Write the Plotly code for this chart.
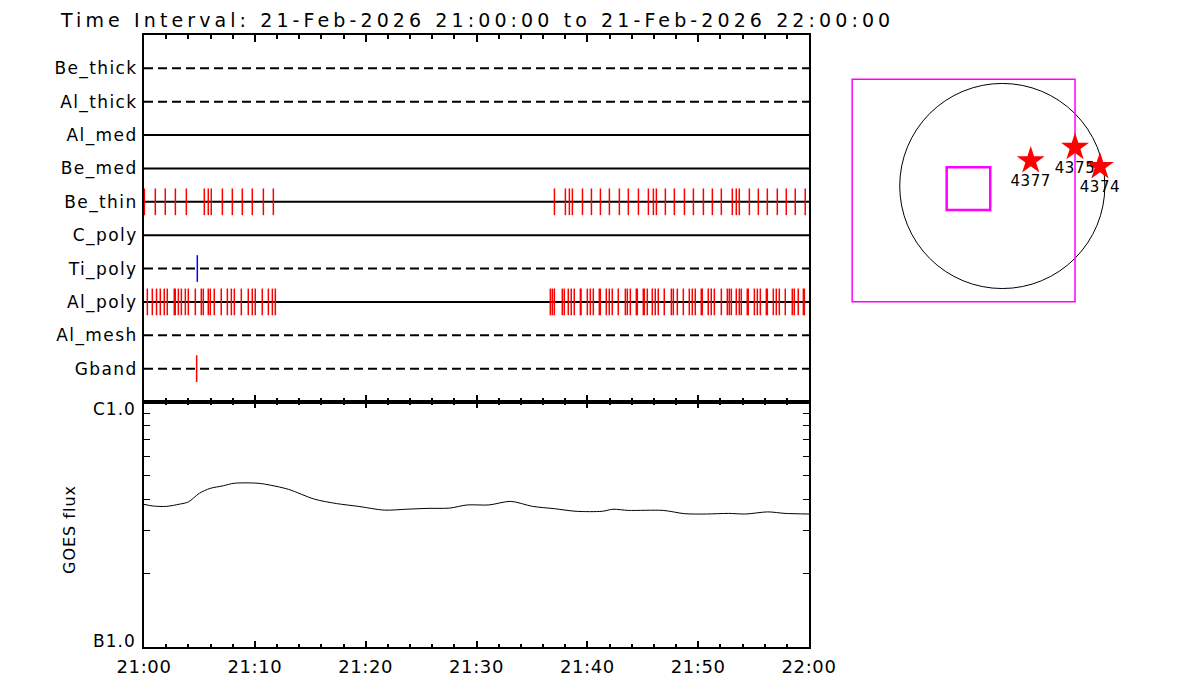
import math
import plotly.graph_objects as go

# ---------------- data ----------------
title_text = "Time Interval: 21-Feb-2026 21:00:00 to 21-Feb-2026 22:00:00"

# channel rows, bottom to top
channels = ["Gband", "Al_mesh", "Al_poly", "Ti_poly", "C_poly",
            "Be_thin", "Be_med", "Al_med", "Al_thick", "Be_thick"]

# exposure times (minutes after 21:00)
be_thin_times = [0.03, 1.02, 1.92, 2.83, 3.82, 5.44, 5.80, 6.07, 7.07, 7.97,
                 8.87, 9.77, 10.77, 11.67,
                 37.03, 38.02, 38.38, 38.65, 39.56, 40.37, 41.18, 41.99, 42.89,
                 43.70, 44.61, 45.51, 45.96, 46.23, 47.04, 47.85, 48.76, 49.57,
                 50.47, 51.28, 52.09, 53.08, 53.44, 53.71, 54.62, 55.43, 56.24,
                 57.14, 57.95, 58.76, 59.66]
al_poly_times = [0.30, 0.75, 1.13, 1.47, 1.83, 2.10, 2.73, 2.82, 3.10, 3.37,
                 3.73, 4.00, 4.63, 5.17, 5.35, 5.80, 5.98, 6.34, 6.97, 7.52,
                 7.88, 8.15, 8.78, 9.41, 9.77, 10.04, 10.67, 11.22, 11.58, 11.85,
                 36.66, 36.84, 37.02, 37.74, 37.92, 38.28, 38.55, 38.82, 39.37,
                 39.43, 40.00, 40.27, 40.54, 41.08, 41.17, 41.71, 41.98, 42.25,
                 42.79, 43.43, 43.61, 43.88, 44.42, 44.51, 45.05, 45.14, 45.41,
                 45.86, 46.13, 46.40, 46.94, 47.58, 47.76, 48.12, 48.66, 49.20,
                 49.47, 49.74, 50.28, 50.37, 50.91, 51.18, 51.46, 52.09, 52.63,
                 52.81, 52.99, 53.44, 53.71, 53.89, 54.43, 54.52, 55.07, 55.34,
                 55.61, 56.15, 56.24, 56.78, 57.05, 57.32, 57.86, 58.49, 58.67,
                 59.03, 59.49, 59.58]
ti_poly_times = [4.81]
gband_times = [4.75]

# GOES flux (W/m^2) vs minutes after 21:00
goes_minutes = [0.0, 0.86, 2.04, 3.22, 4.01, 4.99, 5.97, 7.15, 8.13, 10.29,
                11.47, 13.04, 15.40, 17.37, 19.33, 21.69, 23.65, 25.62, 27.58,
                29.16, 31.12, 33.09, 35.05, 37.01, 38.98, 41.34, 42.32, 43.70,
                46.84, 48.80, 50.77, 52.73, 54.30, 56.27, 57.84, 60.0]
goes_flux = [3.82e-7, 3.76e-7, 3.75e-7, 3.83e-7, 3.91e-7, 4.24e-7, 4.44e-7,
             4.55e-7, 4.66e-7, 4.66e-7, 4.57e-7, 4.40e-7, 4.01e-7, 3.85e-7,
             3.75e-7, 3.62e-7, 3.65e-7, 3.68e-7, 3.69e-7, 3.80e-7, 3.80e-7,
             3.93e-7, 3.75e-7, 3.67e-7, 3.58e-7, 3.58e-7, 3.65e-7, 3.61e-7,
             3.61e-7, 3.50e-7, 3.49e-7, 3.51e-7, 3.49e-7, 3.56e-7, 3.51e-7,
             3.49e-7]

x_tick_vals = [0, 10, 20, 30, 40, 50, 60]
x_tick_text = ["21:00", "21:10", "21:20", "21:30", "21:40", "21:50", "22:00"]
goes_minor_vals = [2e-7, 3e-7, 4e-7, 5e-7, 6e-7, 7e-7, 8e-7, 9e-7]
goes_label_vals = [1e-7, 1e-6]
goes_label_text = ["B1.0", "C1.0"]

# solar disk map (arcsec)
disk_radius = 970
fov_box = [-1420, 688, -1095, 1010]       # x0, x1, y0, y1
target_box = [-526, -114, -227, 177]
ar_ids = ["4377", "4375", "4374"]
ar_x = [269, 688, 924]
ar_y = [239, 366, 183]

# ---------------- styling ----------------
# the page body has an 8px margin, so the figure is 1192x692 placed at (8, 8)
OFF = 8
W, H = 1200 - OFF, 700 - OFF
def px(x): return (x - OFF) / W
def py(y): return 1 - (y - OFF) / H

FONT = "DejaVu Sans"
def spaced(s, sp):
    return f'<span style="letter-spacing:{sp}px">{s}</span>'

dashed = {"Be_thick", "Al_thick", "Ti_poly", "Al_mesh", "Gband"}
events = {"Be_thin": (be_thin_times, "#FF0000"),
          "Al_poly": (al_poly_times, "#FF0000"),
          "Ti_poly": (ti_poly_times, "#0000FF"),
          "Gband": (gband_times, "#FF0000")}

fig = go.Figure()

for i, ch in enumerate(channels):
    row = i + 1
    fig.add_trace(go.Scatter(
        x=[0, 60], y=[row, row], mode="lines",
        line=dict(color="black", width=2,
                  dash="9px,5px" if ch in dashed else "solid"),
        xaxis="x", yaxis="y", hoverinfo="skip", showlegend=False))

for i, ch in enumerate(channels):
    if ch not in events:
        continue
    row = i + 1
    times, col = events[ch]
    xs, ys = [], []
    for t in times:
        xs += [t, t, None]
        ys += [row - 0.4, row + 0.4, None]
    fig.add_trace(go.Scatter(
        x=xs, y=ys, mode="lines", line=dict(color=col, width=1.5),
        xaxis="x", yaxis="y", hoverinfo="skip", showlegend=False))

fig.add_trace(go.Scatter(
    x=goes_minutes, y=goes_flux, mode="lines",
    line=dict(color="black", width=1, shape="spline", smoothing=0.8),
    xaxis="x2", yaxis="y2", showlegend=False))

fig.add_trace(go.Scatter(
    x=ar_x, y=ar_y, mode="markers+text", text=[spaced(a, 0.6) for a in ar_ids],
    textposition="bottom center",
    textfont=dict(family=FONT, size=15, color="black"),
    marker=dict(symbol="star", size=21, color="#FF0000", line=dict(width=0)),
    xaxis="x3", yaxis="y3", showlegend=False))

axis_common = dict(showgrid=False, zeroline=False, showline=True,
                   linecolor="black", linewidth=2, automargin=False)

annotations = [
    dict(text=spaced(title_text, 4.1), xref="paper", yref="paper",
         x=px(59), y=1.0, xanchor="left", yanchor="top", borderpad=0,
         showarrow=False, font=dict(size=19)),
    dict(text=spaced("GOES flux", 1.0), xref="paper", yref="paper",
         x=px(69), y=py(530), xanchor="center", yanchor="middle",
         textangle=-90, showarrow=False, font=dict(size=16)),
]
# GOES class labels placed on the log axis, nudged inward like the original
for v, t, shift in zip(goes_label_vals, goes_label_text, [6, -7]):
    annotations.append(dict(
        text=spaced(t, 1.0), xref="paper", yref="y2",
        x=px(138), y=math.log10(v), yshift=shift,
        xanchor="right", yanchor="middle", showarrow=False,
        font=dict(size=17)))

fig.update_layout(
    width=W, height=H,
    margin=dict(l=0, r=0, t=0, b=0, autoexpand=False),
    paper_bgcolor="white", plot_bgcolor="white",
    font=dict(family=FONT, color="black"),
    xaxis=dict(**axis_common, domain=[px(144), px(809)], range=[0, 60],
               anchor="y", mirror="allticks", ticks="inside", ticklen=7,
               tickwidth=2, tickcolor="black", tickvals=x_tick_vals,
               showticklabels=False,
               minor=dict(ticks="inside", dtick=2, ticklen=4, tickwidth=2,
                          tickcolor="black")),
    yaxis=dict(**axis_common, domain=[py(402), py(35)], range=[0, 11],
               anchor="x", mirror=True, ticks="",
               tickvals=list(range(1, len(channels) + 1)),
               ticktext=[spaced(c, 1.4) for c in channels],
               tickfont=dict(size=17), ticklabelstandoff=1),
    xaxis2=dict(**axis_common, domain=[px(144), px(809)], range=[0, 60],
                anchor="y2", mirror="allticks", ticks="inside", ticklen=6,
                tickwidth=2, tickcolor="black", tickvals=x_tick_vals,
                ticktext=[spaced(t, 0.6) for t in x_tick_text],
                tickfont=dict(size=18), ticklabelstandoff=2,
                minor=dict(ticks="inside", dtick=2, ticklen=3, tickwidth=2,
                           tickcolor="black")),
    yaxis2=dict(**axis_common, domain=[py(647), py(402)], type="log",
                range=[-7, -6], anchor="x2", mirror="allticks",
                ticks="inside", ticklen=6, tickwidth=1, tickcolor="black",
                tickvals=goes_minor_vals, showticklabels=False),
    xaxis3=dict(domain=[px(840), px(1130)], range=[-1535, 1208],
                visible=False, anchor="y3", automargin=False),
    yaxis3=dict(domain=[py(310), py(70)], range=[-1173, 1097],
                visible=False, anchor="x3", automargin=False),
    shapes=[
        dict(type="circle", xref="x3", yref="y3",
             x0=-disk_radius, x1=disk_radius, y0=-disk_radius, y1=disk_radius,
             line=dict(color="black", width=1), layer="below"),
        dict(type="rect", xref="x3", yref="y3",
             x0=fov_box[0], x1=fov_box[1], y0=fov_box[2], y1=fov_box[3],
             line=dict(color="#FF00FF", width=1.5), layer="below"),
        dict(type="rect", xref="x3", yref="y3",
             x0=target_box[0], x1=target_box[1], y0=target_box[2], y1=target_box[3],
             line=dict(color="#FF00FF", width=2.5), layer="below"),
    ],
    annotations=annotations,
)

fig.write_html("out.html")
